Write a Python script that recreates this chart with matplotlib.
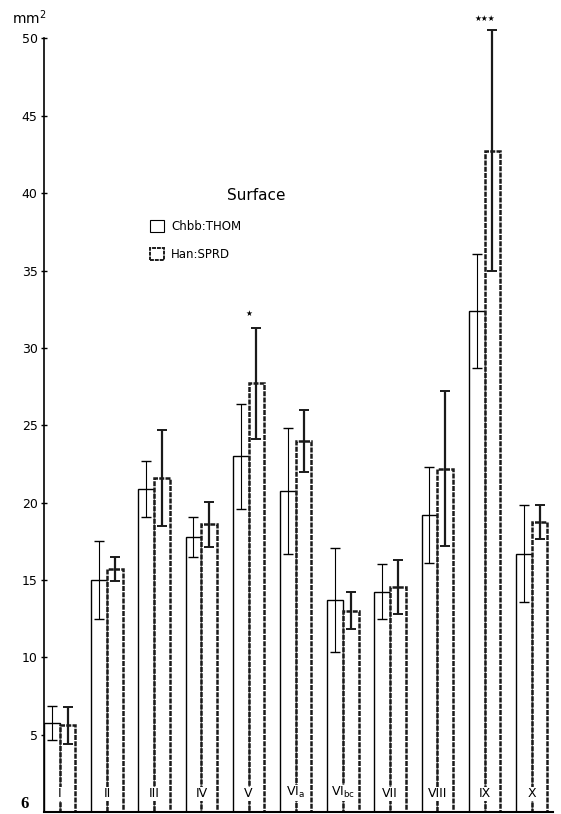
import numpy as np
import matplotlib
matplotlib.use("Agg")
import matplotlib.pyplot as plt
from matplotlib.patches import Patch

# --- du lieu doc tu hinh ---
groups = ["I", "II", "III", "IV", "V", r"VI$_\mathrm{a}$", r"VI$_\mathrm{bc}$",
          "VII", "VIII", "IX", "X"]
thom_mean = [5.75, 15.0, 20.9, 17.8, 23.0, 20.75, 13.7, 14.25, 19.2, 32.4, 16.7]
thom_sd = [1.1, 2.5, 1.8, 1.3, 3.4, 4.1, 3.35, 1.75, 3.1, 3.7, 3.15]
sprd_mean = [5.6, 15.7, 21.6, 18.6, 27.7, 24.0, 13.0, 14.55, 22.2, 42.75, 18.75]
sprd_sd = [1.2, 0.8, 3.1, 1.45, 3.6, 2.0, 1.2, 1.75, 5.0, 7.8, 1.1]
signif = {4: ("★", 32.2), 9: ("★★★", 51.3)}
yticks = [5, 10, 15, 20, 25, 30, 35, 40, 45, 50]

plt.rcParams["font.family"] = ["DejaVu Sans"]

fig = plt.figure(figsize=(5.61, 8.14), dpi=100)
ax = fig.add_axes([44 / 561, 2 / 814, 509 / 561, 0.9503])

x = np.arange(len(groups))
w = 1 / 3
dots = (0, (2, 0.5))

ax.bar(x - w / 2, thom_mean, width=w, color="white", edgecolor="black",
       linewidth=1.0, zorder=2)
ax.bar(x + w / 2, sprd_mean, width=w, color="white", edgecolor="#1a1a1a",
       linewidth=1.8, linestyle=dots, zorder=2)

ax.errorbar(x - w / 2, thom_mean, yerr=thom_sd, fmt="none", ecolor="black",
            elinewidth=0.8, capsize=3.5, capthick=1.0, zorder=3, clip_on=False)
ax.errorbar(x + w / 2, sprd_mean, yerr=sprd_sd, fmt="none", ecolor="#1a1a1a",
            elinewidth=1.6, capsize=3.5, capthick=1.4, zorder=3, clip_on=False)

# ten cac nhom ben trong cot (che duong ngan giua 2 cot)
for xi, g in zip(x, groups):
    ax.text(xi, 0.75, g, ha="center", va="bottom", fontsize=9, zorder=4,
            bbox=dict(facecolor="white", edgecolor="none", pad=0.5))

# dau sao y nghia thong ke
for i, (s, yv) in signif.items():
    ax.text(x[i], yv, s, ha="center", va="center", fontsize=5.5,
            clip_on=False)

ax.set_xlim(-w, 10.45)
ax.set_ylim(0, 50)
ax.set_yticks(yticks)
ax.set_yticklabels([str(t) for t in yticks], fontsize=9)
ax.set_xticks([])
ax.tick_params(axis="y", direction="inout", length=5, width=1, pad=2)
for s in ["top", "right"]:
    ax.spines[s].set_visible(False)
ax.spines["left"].set_linewidth(1.2)
ax.spines["bottom"].set_linewidth(1.5)

fig.text(12 / 561, 1 - 24 / 814, r"mm$^2$", fontsize=10, va="baseline")
fig.text(20 / 561, 0.002, "6", fontsize=12, fontweight="bold",
         family="Liberation Serif", va="bottom")

# chu thich
fig.text(256 / 561, 1 - 195 / 814, "Surface", fontsize=11, ha="center",
         va="center")
handles = [Patch(facecolor="white", edgecolor="black", linewidth=0.8),
           Patch(facecolor="white", edgecolor="#1a1a1a", linewidth=1.4,
                 linestyle=dots)]
ax.legend(handles, ["Chbb:THOM", "Han:SPRD"], loc="upper left",
          bbox_to_anchor=(144 / 561, 1 - 214 / 814), bbox_transform=fig.transFigure,
          frameon=False, fontsize=8.5, handlelength=1.2, handleheight=1.2,
          handletextpad=0.6, labelspacing=1.3, borderpad=0)

fig.savefig("out.png", dpi=100)
